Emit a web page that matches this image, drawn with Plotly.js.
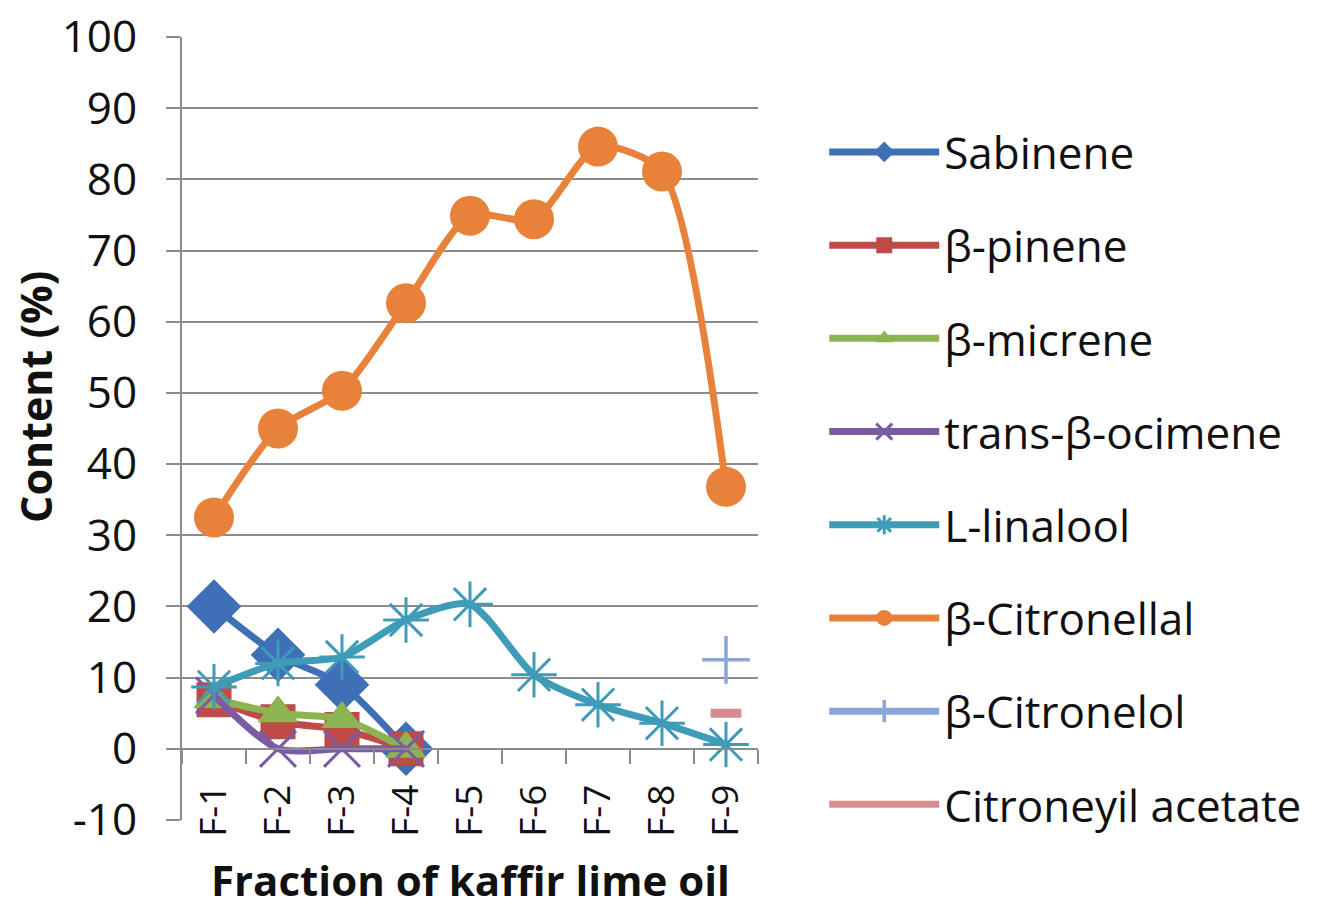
<!DOCTYPE html>
<html>
<head>
<meta charset="utf-8">
<script src="https://cdn.plot.ly/plotly-3.0.1.min.js"></script>
<style>html,body{margin:0;padding:0;background:#fff;}#chart{width:1327px;height:907px;}</style>
</head>
<body>
<div id="chart"></div>
<script>
const fractions = ['F-1','F-2','F-3','F-4','F-5','F-6','F-7','F-8','F-9'];
const seriesNames = ['Sabinene','β-pinene','β-micrene','trans-β-ocimene','L-linalool','β-Citronellal','β-Citronelol','Citroneyil acetate'];
const sabinene     = [20, 13.2, 9, 0, null, null, null, null, null];
const betaPinene   = [6.9, 3.8, 2.7, 0, null, null, null, null, null];
const betaMicrene  = [7, 5, 4.2, 0, null, null, null, null, null];
const transOcimene = [7.5, 0, 0, 0, null, null, null, null, null];
const linalool     = [8.7, 12, 12.9, 18.1, 20.3, 10.4, 6.2, 3.6, 0.6];
const citronellal  = [32.5, 45, 50.3, 62.6, 74.9, 74.4, 84.6, 81.1, 36.8];
const citronelol   = [null, null, null, null, null, null, null, null, 12.5];
const citroAcetate = [null, null, null, null, null, null, null, null, 5];
const yTicks = [-10,0,10,20,30,40,50,60,70,80,90,100];
const yTickText = ['-10','0','10','20','30','40','50','60','70','80','90','100'];

const seriesValues = [sabinene, betaPinene, betaMicrene, transOcimene, linalool, citronellal, citronelol, citroAcetate];
const colors = ['#3F6FB6','#BE4B48','#8DB452','#7B5CA2','#3E9CB8','#E8823A','#88A6D6','#D98C90'];
const markers = [
  {symbol:'diamond', size:42},
  {symbol:'square', size:35},
  {symbol:'triangle-up', size:36},
  {symbol:'x-thin-open', size:36, lw:3},
  {symbol:'asterisk-open', size:38, lw:3},
  {symbol:'circle', size:40},
  {symbol:'cross-thin-open', size:34, lw:3.5},
  {symbol:'line-ew-open', size:22, lw:9}
];

const traces = seriesNames.map((name, i) => {
  const m = markers[i];
  const mk = {symbol: m.symbol, size: m.size, color: colors[i]};
  if (m.lw) mk.line = {color: colors[i], width: m.lw};
  else mk.line = {width: 0};
  return {
    type: 'scatter',
    mode: 'lines+markers',
    name: name,
    legendgroup: 'g' + i,
    x: fractions,
    y: seriesValues[i],
    line: {color: colors[i], width: 7, shape: 'spline', smoothing: 0.7},
    marker: mk,
    connectgaps: false,
    cliponaxis: false
  };
});

const font = 'Open Sans, Lato, sans-serif';
const layout = {
  width: 1327, height: 907,
  margin: {l: 182, r: 569, t: 37, b: 87},
  paper_bgcolor: '#fff', plot_bgcolor: '#fff',
  showlegend: true,
  font: {family: font, color: '#111'},
  xaxis: {
    type: 'category',
    anchor: 'free', position: 10/110,
    showgrid: false, zeroline: false,
    showline: true, linecolor: '#8c8c8c', linewidth: 2,
    ticks: 'outside', tickson: 'boundaries', ticklen: 14, tickwidth: 2, tickcolor: '#8c8c8c',
    tickangle: -90, ticklabelstandoff: 20,
    tickfont: {family: font, size: 37, color: '#111'},
    range: [-0.5, 8.5]
  },
  yaxis: {
    range: [-10, 100], tickvals: yTicks, ticktext: yTickText,
    showgrid: true, gridcolor: '#8c8c8c', gridwidth: 2,
    zeroline: false,
    showline: true, linecolor: '#8c8c8c', linewidth: 2,
    ticks: 'outside', ticklen: 14, tickwidth: 2, tickcolor: '#8c8c8c',
    ticklabelstandoff: 20,
    tickfont: {family: font, size: 44, color: '#111'}
  },
  annotations: [{
    text: 'Content (%)', xref: 'paper', yref: 'paper',
    x: (35 - 182) / 576, y: (820 - 397) / 783, xanchor: 'center', yanchor: 'middle',
    textangle: -90, showarrow: false,
    font: {family: font, size: 43, color: '#111', weight: 'bold'}
  }, {
    text: 'Fraction of kaffir lime oil', xref: 'paper', yref: 'paper',
    x: 0.5, y: (820 - 879) / 783, xanchor: 'center', yanchor: 'middle',
    showarrow: false,
    font: {family: font, size: 42, color: '#111', weight: 'bold'}
  }],
  legend: {
    x: 1.115, xanchor: 'left', y: 0.898, yanchor: 'top',
    traceorder: 'grouped', tracegroupgap: 33,
    itemwidth: 110, itemsizing: 'trace',
    font: {family: font, size: 44, color: '#111'},
    bgcolor: 'rgba(0,0,0,0)'
  }
};

Plotly.newPlot('chart', traces, layout, {displayModeBar: false, staticPlot: true});
</script>
</body>
</html>
